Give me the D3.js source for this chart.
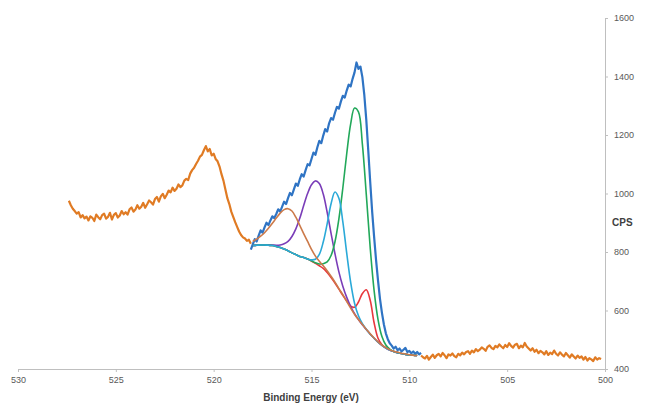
<!DOCTYPE html>
<html>
<head>
<meta charset="utf-8">
<script src="https://cdn.jsdelivr.net/npm/d3@7"></script>
<style>
  body { margin: 0; background: #fff; }
  svg text { font-family: "Liberation Sans", Arial, sans-serif; }
</style>
</head>
<body>
<svg id="chart" width="646" height="407"></svg>
<script>
// axis ticks
const xTicks = [530, 525, 520, 515, 510, 505, 500];
const yTicks = [400, 600, 800, 1000, 1200, 1400, 1600];

// survey scan, high-BE side (527.4 -> 518.1 eV, 0.1 eV steps)
const surveyHighStart = 527.4;
const surveyHigh = [
  975, 960, 948, 940, 931, 936, 918, 926, 915, 921,
  908, 922, 917, 906, 928, 919, 912, 926, 931, 914,
  920, 934, 911, 927, 933, 918, 925, 940, 929, 936,
  928, 946, 952, 938, 945, 960, 948, 955, 968, 951,
  963, 976, 970, 962, 981, 988, 972, 990, 999, 984,
  996, 1010, 1004, 1020, 1009, 1016, 1031, 1022, 1028, 1044,
  1050, 1046, 1068, 1080, 1088, 1101, 1112, 1126, 1132, 1148,
  1162, 1144, 1152, 1130, 1136, 1118, 1110, 1092, 1066, 1044,
  1014, 984, 964, 938, 920, 902, 886, 870, 858, 850,
  846, 838, 842, 828
];

// survey scan, low-BE side (509.4 -> 500.2 eV, 0.1 eV steps)
const surveyLowStart = 509.4;
const surveyLow = [
  446, 440, 436, 445, 432, 441, 449, 438, 447, 452,
  443, 455, 447, 437, 450, 446, 453, 444, 440, 452,
  447, 456, 450, 458, 461, 452, 463, 457, 468, 461,
  466, 474, 469, 462, 476, 481, 472, 468, 479, 474,
  484, 477, 471, 482, 475, 488, 479, 473, 483, 486,
  471, 480, 474, 489, 477, 470, 463, 471, 459, 466,
  454, 462, 457, 450, 461, 448, 456, 451, 463, 452,
  446, 457, 449, 443, 455, 447, 439, 450, 443, 436,
  446, 438, 443, 432, 441, 429, 437, 433, 427, 440,
  432, 437, 434
];

// measured region (518.1 -> 509.4 eV, 0.1 eV steps)
const regionStart = 518.1;
const region = [
  808, 826, 844, 836, 856, 874, 866, 884, 900, 892,
  908, 922, 916, 930, 946, 938, 955, 972, 964, 984,
  1002, 994, 1014, 1034, 1026, 1048, 1066, 1058, 1080, 1100,
  1096, 1118, 1140, 1132, 1158, 1180, 1172, 1198, 1220, 1212,
  1240, 1258, 1252, 1276, 1296, 1290, 1314, 1334, 1328, 1352,
  1372, 1366, 1392, 1414, 1448, 1426, 1434, 1398, 1336, 1252,
  1148, 1040, 938, 852, 772, 702, 640, 592, 552, 522,
  502, 488, 480, 470, 476, 464, 470, 460, 466, 472,
  458, 462, 454, 460, 452, 458, 450, 455
];

// fitted components (518.0 -> 509.6 eV, 0.2 eV steps)
const fitStart = 518.0;
const compRed = [
  822, 823, 824, 824, 823, 822, 819, 815, 810, 804,
  797, 791, 785, 781, 776, 769, 761, 753, 744, 730,
  713, 694, 673, 652, 632, 615, 611, 629, 658, 671,
  635, 558, 505, 483, 472, 465, 460, 456, 453, 450,
  448, 447, 446
];
const compPurple = [
  822, 823, 824, 824, 824, 824, 823, 824, 828, 836,
  853, 879, 915, 959, 1000, 1030, 1043, 1034, 998, 936,
  864, 794, 732, 683, 645, 614, 589, 569, 551, 535,
  519, 505, 492, 481, 472, 465, 460, 456, 453, 450,
  448, 447, 446
];
const compGreen = [
  822, 823, 824, 824, 823, 822, 819, 815, 810, 804,
  797, 791, 785, 781, 776, 770, 763, 759, 760, 766,
  788, 835, 913, 1018, 1136, 1237, 1292, 1279, 1169, 997,
  815, 668, 569, 511, 482, 468, 460, 456, 453, 450,
  448, 447, 446
];
const compCyan = [
  822, 823, 824, 824, 823, 822, 819, 815, 810, 804,
  797, 791, 785, 781, 776, 773, 775, 792, 834, 896,
  965, 1005, 984, 904, 796, 697, 625, 582, 555, 536,
  519, 505, 492, 481, 472, 465, 460, 456, 453, 450,
  448, 447, 446
];
const compTan = [
  837, 844, 854, 866, 881, 898, 916, 933, 945, 948,
  940, 919, 891, 863, 836, 809, 786, 768, 753, 736,
  717, 697, 675, 654, 631, 608, 587, 569, 552, 536,
  520, 506, 493, 482, 473, 466, 461, 457, 454, 451,
  449, 447, 446
];

function toPoints(start, dE, values) {
  return values.map((v, i) => ({ be: +(start - i * dE).toFixed(2), cps: v }));
}

const svg = d3.select("#chart");

const x = d3.scaleLinear().domain([530, 500]).range([18, 605]);
const y = d3.scaleLinear().domain([400, 1600]).range([369, 18]);

const axisColor = "#bfbfbf";
const labelColor = "#595959";

// x axis
const gx = svg.append("g")
  .attr("transform", "translate(0,369)")
  .call(d3.axisBottom(x).tickValues(xTicks).tickSize(3).tickPadding(5).tickFormat(d3.format("d")));
gx.select(".domain").attr("stroke", axisColor);
gx.selectAll(".tick line").attr("stroke", axisColor);
gx.selectAll(".tick text").attr("fill", labelColor).attr("font-size", 9);

// y axis on the right
const gy = svg.append("g")
  .attr("transform", "translate(605,0)")
  .call(d3.axisRight(y).tickValues(yTicks).tickSize(3).tickPadding(6).tickFormat(d3.format("d")));
gy.select(".domain").attr("stroke", axisColor);
gy.selectAll(".tick line").attr("stroke", axisColor);
gy.selectAll(".tick text").attr("fill", labelColor).attr("font-size", 9);

svg.append("text")
  .attr("x", 311).attr("y", 401)
  .attr("text-anchor", "middle")
  .attr("font-size", 10).attr("font-weight", "bold")
  .attr("fill", "#404040")
  .text("Binding Energy (eV)");

svg.append("text")
  .attr("x", 612).attr("y", 226)
  .attr("font-size", 10).attr("font-weight", "bold")
  .attr("fill", "#404040")
  .text("CPS");

const rawLine = d3.line().x(d => x(d.be)).y(d => y(d.cps));
const fitLine = d3.line().x(d => x(d.be)).y(d => y(d.cps)).curve(d3.curveCatmullRom.alpha(0.5));

const plot = svg.append("g").attr("fill", "none").attr("stroke-linejoin", "round");

plot.append("path")
  .attr("d", rawLine(toPoints(surveyHighStart, 0.1, surveyHigh)))
  .attr("stroke", "#e07b24").attr("stroke-width", 2.2);
plot.append("path")
  .attr("d", rawLine(toPoints(surveyLowStart, 0.1, surveyLow)))
  .attr("stroke", "#e07b24").attr("stroke-width", 2.2);
plot.append("path")
  .attr("d", rawLine(toPoints(regionStart, 0.1, region)))
  .attr("stroke", "#2f74c4").attr("stroke-width", 2.2);

const components = [
  { values: compRed, color: "#e8383d" },
  { values: compPurple, color: "#7a3db8" },
  { values: compGreen, color: "#22a85a" },
  { values: compCyan, color: "#2aa9d8" },
  { values: compTan, color: "#cc7a4a" }
];

components.forEach(c => {
  plot.append("path")
    .attr("d", fitLine(toPoints(fitStart, 0.2, c.values)))
    .attr("stroke", c.color).attr("stroke-width", 1.6);
});
</script>
</body>
</html>
